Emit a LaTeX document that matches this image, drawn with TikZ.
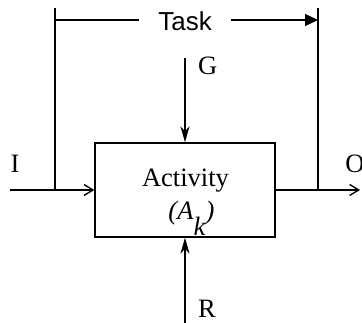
\documentclass[tikz,border=0pt]{standalone}
\usepackage{fontspec}
\setmainfont{Liberation Serif}
\newfontfamily\labelsans{Liberation Sans}
\usetikzlibrary{arrows.meta}
\begin{document}
\begin{tikzpicture}[x=1pt,y=-1pt,
  wire/.style={line width=1.4pt},
  flowarrow/.style={wire,-{Straight Barb[length=9pt,width=11pt,line width=1.4pt]}},
  ctrlarrow/.style={wire,-{Stealth[length=16pt,width=9pt,inset=5pt]}},
  taskarrow/.style={wire,-{Triangle[length=13pt,width=12pt]}},
  actbox/.style={draw,line width=1.4pt,minimum width=180pt,minimum height=94pt,inner sep=0pt},
  serif/.style={font=\fontsize{26.5}{31}\selectfont,inner sep=0pt},
  sans/.style={font=\labelsans\fontsize{26}{31}\selectfont,inner sep=0pt}]
  \useasboundingbox (0,0) rectangle (362,323);

  % activity box and its text
  \node[actbox] (act) at (185,190) {};
  \node[serif,anchor=base] (actname) at (185.5,187) {Activity};
  \node[serif,anchor=base] (actsym) at (191.5,220)
    {\textit{(A}\raisebox{-16pt}{\textit{k}}\textit{)}};

  % end points of the connectors
  \coordinate (inlet) at (10,190);
  \coordinate (outlet) at (360,190);
  \coordinate (gtop) at (185,58);
  \coordinate (rbot) at (185,323);
  \coordinate (lt) at (55,8);
  \coordinate (lj) at (55,190);
  \coordinate (rt) at (318,8);
  \coordinate (rj) at (318,190);
  \coordinate (tl) at (55,20);
  \coordinate (tr) at (318,20);

  % input, output, guide and resource arrows
  \draw[flowarrow] (inlet) -- (act.west);
  \draw[flowarrow] (act.east) -- (outlet);
  \draw[ctrlarrow] (gtop) -- (act.north);
  \draw[ctrlarrow] (rbot) -- (act.south);

  % task span
  \draw[wire] (lt) -- (lj);
  \draw[wire] (rt) -- (rj);
  \node[sans,inner xsep=19pt] (task) at (185,21) {Task};
  \draw[wire] (tl) -- (tl -| task.west);
  \draw[taskarrow] (tl -| task.east) -- (tr);

  % labels
  \node[serif,anchor=base] (ilabel) at (15,173) {I};
  \node[serif,anchor=base] (olabel) at (355,173) {O};
  \node[serif,anchor=base west] (glabel) at (198,75) {G};
  \node[serif,anchor=base west] (rlabel) at (198,318) {R};
\end{tikzpicture}
\end{document}
